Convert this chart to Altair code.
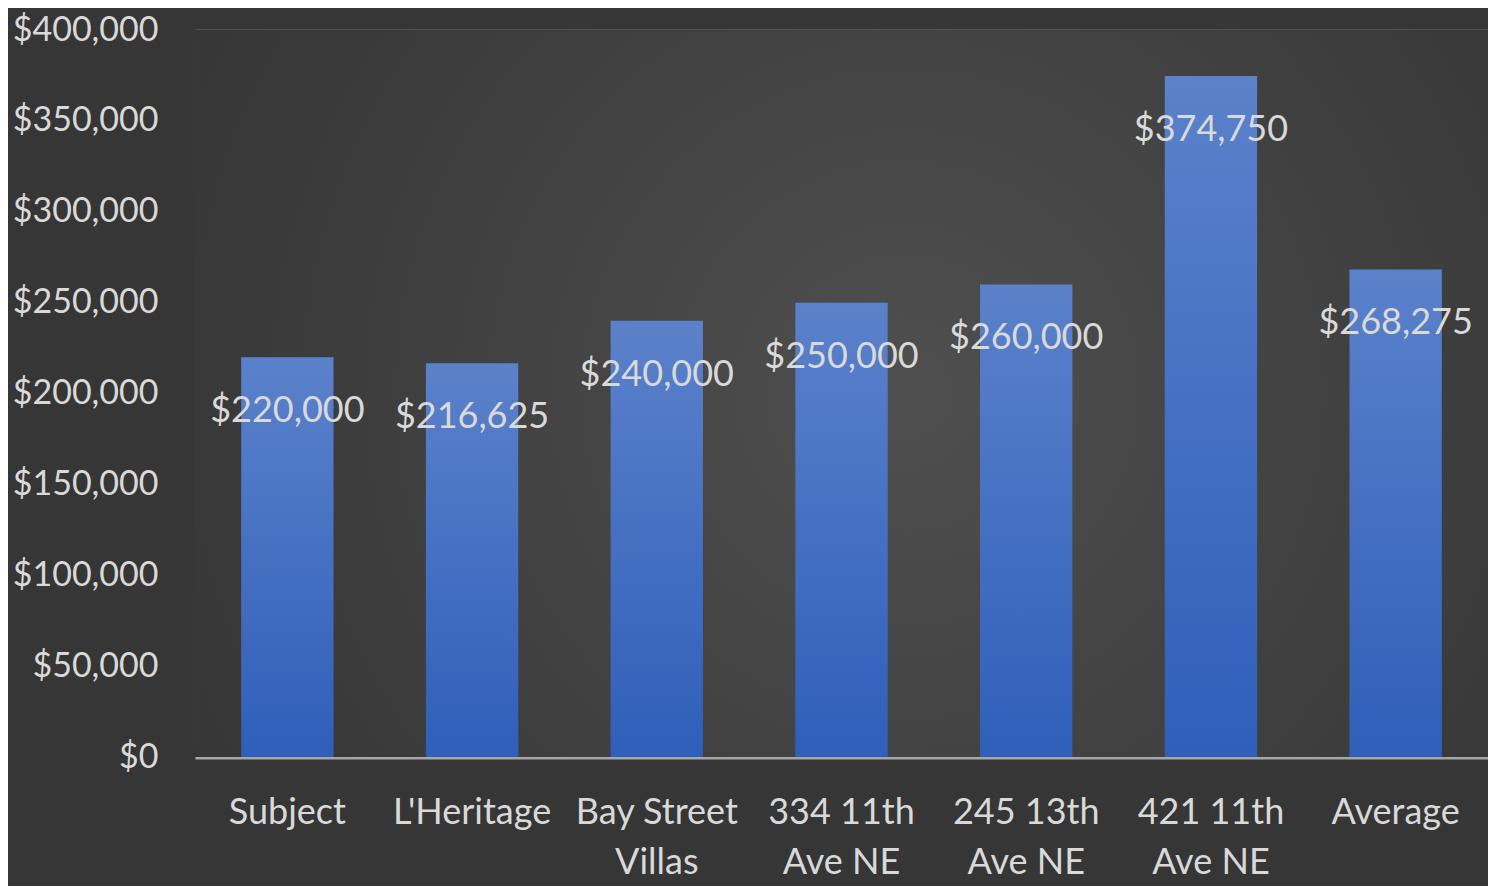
import altair as alt
import pandas as pd

categories = ["Subject", "L'Heritage", "Bay Street|Villas", "334 11th|Ave NE",
              "245 13th|Ave NE", "421 11th|Ave NE", "Average"]
values = [220000, 216625, 240000, 250000, 260000, 374750, 268275]
y_ticks = [0, 50000, 100000, 150000, 200000, 250000, 300000, 350000, 400000]

df = pd.DataFrame({"cat": categories, "val": values})

FONT = "Lato"
TEXT = "#d9d9d9"

bar_grad = alt.LinearGradient(
    gradient="linear", x1=0, x2=0, y1=0, y2=1,
    stops=[alt.GradientStop(color="#5b81ca", offset=0),
           alt.GradientStop(color="#2f5fba", offset=1)],
)

view_grad = alt.RadialGradient(
    gradient="radial", x1=0.55, y1=0.5, r1=0, x2=0.55, y2=0.5, r2=0.75,
    stops=[alt.GradientStop(color="#4f4f4f", offset=0),
           alt.GradientStop(color="#3a3a3a", offset=0.67),
           alt.GradientStop(color="#333333", offset=1)],
)

x = alt.X("cat:N", sort=categories, title=None,
          scale=alt.Scale(paddingInner=0.5, paddingOuter=0.25),
          axis=alt.Axis(labelExpr="split(datum.label, '|')", labelAngle=0,
                        labelFont=FONT, labelFontSize=36, labelColor=TEXT,
                        labelPadding=38, labelBaseline="top", labelLineHeight=50,
                        ticks=False, domain=True, domainColor="#a6a6a6",
                        domainWidth=4, grid=False))
y = alt.Y("val:Q", title=None,
          scale=alt.Scale(domain=[0, 400000], nice=False),
          axis=alt.Axis(values=y_ticks, format="$,.0f", labelFont=FONT,
                        labelFontSize=34, labelColor=TEXT, labelPadding=37,
                        ticks=False, domain=False, grid=True,
                        gridColor="#5a5a5a", gridWidth=2.5))

bg = alt.Chart(pd.DataFrame({"a": [0]})).mark_rect(color=view_grad).encode(
    x=alt.value(0), x2=alt.value("width"), y=alt.value(0), y2=alt.value("height"))

bars = alt.Chart(df).mark_bar(color=bar_grad).encode(x=x, y=y)

labels = alt.Chart(df).mark_text(
    font=FONT, fontSize=36, color=TEXT, baseline="middle", dy=54
).encode(x=alt.X("cat:N", sort=categories), y=alt.Y("val:Q"),
         text=alt.Text("val:Q", format="$,.0f"))

chart = (
    alt.layer(bg, bars, labels)
    .properties(width=1293, height=727,
                autosize=alt.AutoSizeParams(type="none"),
                padding={"left": 187, "top": 22, "right": 0, "bottom": 129},
                background="#363636")
    .configure_view(stroke=None)
)

chart.save("out.html", embed_options={"renderer": "svg", "actions": False})
